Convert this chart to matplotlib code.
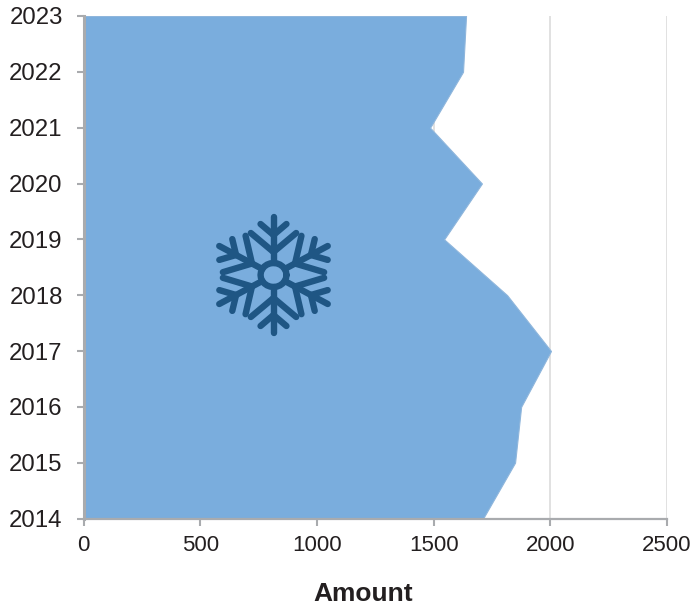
#! /usr/bin/env python3

"""Area of amount per year, drawn sideways, with a snowflake icon"""

import numpy as np
import matplotlib
matplotlib.use('Agg')
import matplotlib.pyplot as plt
from matplotlib.lines import Line2D

plt.rcParams['font.family'] = ['Liberation Sans', 'DejaVu Sans']

years = [2014, 2015, 2016, 2017, 2018, 2019, 2020, 2021, 2022, 2023]
amounts = [1712, 1849, 1875, 2003, 1815, 1545, 1707, 1485, 1626, 1639]
xticks = [0, 500, 1000, 1500, 2000, 2500]

W, H = 694, 611
fillcol = '#7aaddd'
axiscol = '#a9abae'
gridcol = '#dcdcdc'
textcol = '#231f20'
iconcol = '#1f5684'

fig = plt.figure(figsize=(W / 100, H / 100), dpi=100)
ax = fig.add_axes([83.5 / W, 1 - 518.5 / H, (667 - 83.5) / W, (518.5 - 16) / H])

ax.fill_betweenx(years, 0, amounts, facecolor=fillcol, edgecolor='#8fb6dc', linewidth=0.8, zorder=2)
ax.set_xlim(0, 2500)
ax.set_ylim(2014, 2023)
ax.set_xticks(xticks)
ax.set_yticks(years)
ax.xaxis.grid(True, color=gridcol, linewidth=1.2, zorder=1)
ax.set_axisbelow(True)

for side in ('top', 'right'):
    ax.spines[side].set_visible(False)
ax.spines['left'].set_color(axiscol)
ax.spines['left'].set_linewidth(2.2)
ax.spines['bottom'].set_color(axiscol)
ax.spines['bottom'].set_linewidth(1.6)
for sp in ax.spines.values():
    sp.set_zorder(3)

ax.tick_params(axis='y', length=5, width=1.5, color=axiscol, labelsize=17.3, labelcolor=textcol, pad=10)
ax.tick_params(axis='x', length=5, width=1.5, color=axiscol, labelsize=16, labelcolor=textcol, pad=7)

fig.text(363 / W, 1 - 594 / H, 'Amount', fontsize=19, fontweight='bold', color=textcol, ha='center', va='center')

# Snowflake icon, worked out in figure pixels with y pointing up
cx, cy = 273.5, H - 275
stretch = 1.08


def icon_line(xs, ys):
    xs = cx + stretch * np.asarray(xs)
    ys = cy + np.asarray(ys)
    fig.add_artist(Line2D(xs / W, ys / H, transform=fig.transFigure,
                          color=iconcol, linewidth=4.6, solid_capstyle='round', zorder=5))


for ang in range(30, 360, 60):
    t = np.radians(ang)
    ux, uy = np.cos(t), np.sin(t)
    vx, vy = -uy, ux
    icon_line([12 * ux, 58 * ux], [12 * uy, 58 * uy])
    for sgn in (-1, 1):
        # big then small fork on each arm
        icon_line([23 * ux, 42 * ux + sgn * 21 * vx], [23 * uy, 42 * uy + sgn * 21 * vy])
        icon_line([40 * ux, 51 * ux + sgn * 12 * vx], [40 * uy, 51 * uy + sgn * 12 * vy])

ring = np.radians(np.arange(0, 361, 15))
icon_line(12 * np.cos(ring), 12 * np.sin(ring))

fig.savefig('out.png', dpi=100)
plt.close(fig)
